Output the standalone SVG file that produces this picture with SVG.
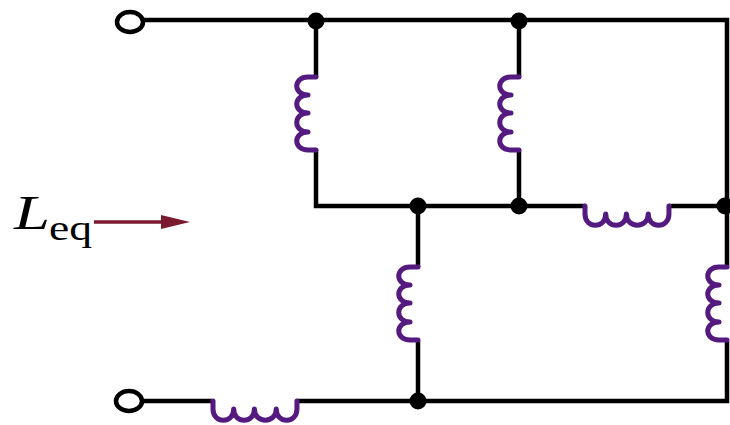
<svg xmlns="http://www.w3.org/2000/svg" width="730" height="425" viewBox="0 0 730 425">
<style>
.w{fill:none;stroke:#000;stroke-width:4.5;stroke-linejoin:miter}
.c{fill:none;stroke:#551a80;stroke-width:5;stroke-linecap:round;stroke-linejoin:round;vector-effect:non-scaling-stroke}
.d{fill:#000}
.t{fill:#fff;stroke:#000;stroke-width:4.5}
.l{font-family:"Liberation Serif",serif;fill:#000}
</style>
<defs>
<path id="coil" class="c" d="M0,0H-8C-23,0 -23,18 -8,18C-23,18 -23,36 -8,36C-23,36 -23,55 -8,55C-23,55 -23,73 -8,73H0"/>
</defs>
<rect width="730" height="425" fill="#fff"/>
<g id="connectors">
<path class="w" d="M143,20H727V267M727,341V401H297M212,401H142"/>
<path class="w" d="M316,20V77M316,150V206H585M669,206H727"/>
<path class="w" d="M519,20V77M519,150V206"/>
<path class="w" d="M418,206V267M418,341V401"/>
<path id="arrow-line" d="M94,222H168" fill="none" stroke="#7a1a2e" stroke-width="3.5"/>
<path id="arrow-head" d="M161,215L190,222L161,229Z" fill="#7a1a2e"/>
</g>
<g id="L1"><use href="#coil" transform="translate(316,77)"/></g>
<g id="L2"><use href="#coil" transform="translate(519,77)"/></g>
<g id="L3"><use href="#coil" transform="translate(418,267)"/></g>
<g id="L4"><use href="#coil" transform="translate(727,267)"/></g>
<g id="L5"><use href="#coil" transform="matrix(0 -1 1.15 0 585 206)"/></g>
<g id="L6"><use href="#coil" transform="matrix(0 -1 1.15 0 213 401)"/></g>
<g id="n1"><circle class="d" cx="316" cy="21" r="8.5"/></g>
<g id="n2"><circle class="d" cx="519" cy="21" r="8.5"/></g>
<g id="n3"><circle class="d" cx="418" cy="206" r="8.5"/></g>
<g id="n4"><circle class="d" cx="519" cy="206" r="8.5"/></g>
<g id="n5"><circle class="d" cx="725" cy="206" r="8.5"/></g>
<g id="n6"><circle class="d" cx="418" cy="401" r="8.5"/></g>
<g id="t1"><ellipse class="t" cx="130" cy="22" rx="13" ry="10"/></g>
<g id="t2"><ellipse class="t" cx="129" cy="401" rx="13" ry="10"/></g>
<g id="label"><text class="l" x="14" y="229" font-size="49" font-style="italic" textLength="36" lengthAdjust="spacingAndGlyphs">L</text><text class="l" x="49" y="240" font-size="36" textLength="43" lengthAdjust="spacingAndGlyphs">eq</text></g>
</svg>
